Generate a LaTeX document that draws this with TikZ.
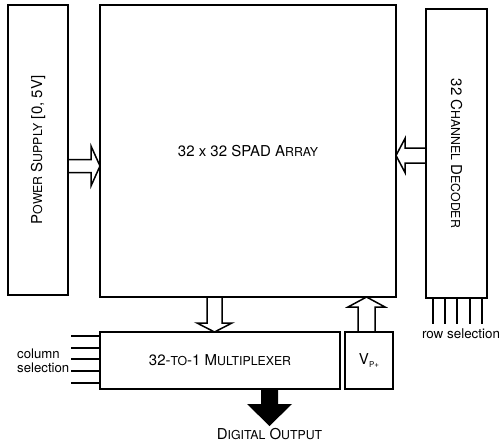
\documentclass[tikz,border=0pt]{standalone}
\usepackage{fontspec}
\setmainfont{TeX Gyre Heros}
\usetikzlibrary{calc}
\newcommand\lbl{\fontsize{15}{18}\selectfont}
\newcommand\smc[1]{{\fontsize{12.3}{14}\selectfont #1}}
\tikzset{
	box/.style={draw,line width=1.9pt,inner sep=0pt,outer sep=0pt,font=\lbl},
	blockarrow/.style n args={3}{to path={
		($(\tikztostart)!#1!90:(\tikztotarget)$)
		--($($(\tikztotarget)!#3!(\tikztostart)$)!#1!90:(\tikztotarget)$)
		--($($(\tikztotarget)!#3!(\tikztostart)$)!#2!90:(\tikztotarget)$)
		--(\tikztotarget)
		--($($(\tikztotarget)!#3!(\tikztostart)$)!#2!-90:(\tikztotarget)$)
		--($($(\tikztotarget)!#3!(\tikztostart)$)!#1!-90:(\tikztotarget)$)
		--($(\tikztostart)!#1!-90:(\tikztotarget)$)--cycle}},
	harrow/.style={line width=1.5pt,line join=miter},
	selline/.style={line width=2pt}
}
\begin{document}
\begin{tikzpicture}[x=1pt,y=-1pt]
	\useasboundingbox(0,0)rectangle(500,444);
	\node[box,minimum width=60,minimum height=290](pwr)at(38,150)
		{\rotatebox{90}{P\smc{OWER} S\smc{UPPLY} [0, 5V]}};
	\node[box,minimum width=296,minimum height=292](spad)at(248,151)
		{\raisebox{-6pt}{32 x 32 SPAD A\smc{RRAY}}};
	\node[box,minimum width=61,minimum height=289](dec)at(456.5,153.5)
		{\rotatebox{-90}{32 C\smc{HANNEL} D\smc{ECODER}}};
	\node[box,minimum width=240,minimum height=57](mux)at(220,360.5)
		{32-\smc{TO}-1 M\smc{ULTIPLEXER}};
	\node[box,minimum width=48,minimum height=57](vp)at(369,360.5)
		{V\raisebox{-3pt}{\fontsize{8}{9}\selectfont P+}};
	\node[anchor=north,inner sep=2pt,font=\lbl](out)at(269.5,426)
		{D\smc{IGITAL} O\smc{UTPUT}};
	\node[anchor=north,inner sep=2pt,font=\fontsize{13.4}{15}\selectfont](rowsel)at(461,327)
		{row selection};
	\node[anchor=west,inner sep=2pt,align=left,font=\fontsize{13.2}{14}\selectfont](colsel)at(15,361)
		{column\\selection};
	\draw[harrow]([yshift=-16pt]pwr.east)to[blockarrow={6.5pt}{20pt}{9pt}]([yshift=-16pt]pwr.east-|spad.west);
	\draw[harrow]([yshift=-2pt]dec.west)to[blockarrow={7.5pt}{17pt}{9pt}]([yshift=-2pt]dec.west-|spad.east);
	\draw[harrow]([xshift=-5.5pt]mux.north|-spad.south)to[blockarrow={7.5pt}{17.5pt}{9pt}]([xshift=-5.5pt]mux.north);
	\draw[harrow]([xshift=-2.5pt]vp.north)to[blockarrow={8.5pt}{18.5pt}{10pt}]([xshift=-2.5pt]vp.north|-spad.south);
	\fill([xshift=49.5pt]mux.south)to[blockarrow={8.5pt}{22.5pt}{22pt}](out.north);
	\foreach \d in {-24,-12,0,13,25}
		\draw[selline,shorten >=3pt]([xshift=\d pt]dec.south)--([xshift=\d pt]dec.south|-rowsel.north);
	\foreach \d in {-25,-13,-2,10,22}
		\draw[selline]([yshift=-\d pt]mux.west)--([yshift=-\d pt]mux.west-|colsel.east);
\end{tikzpicture}
\end{document}
